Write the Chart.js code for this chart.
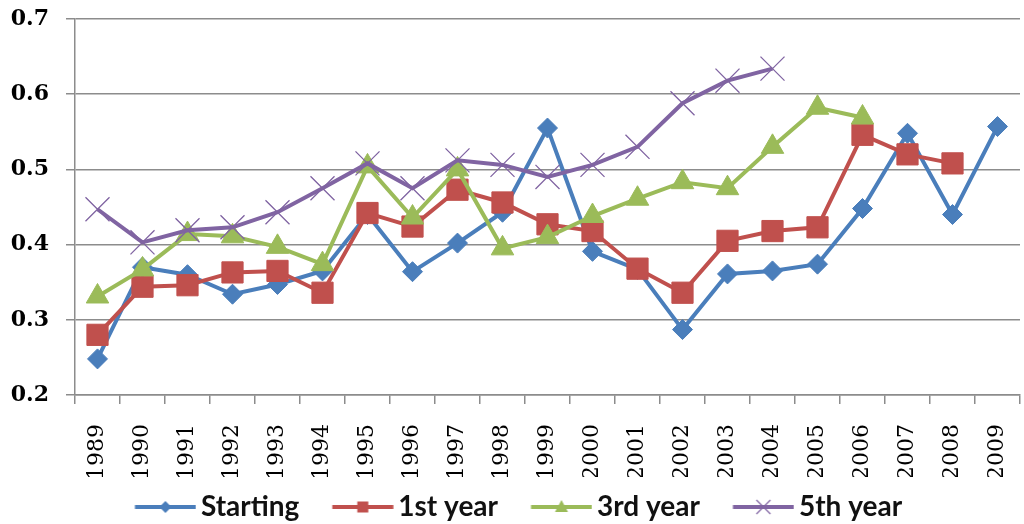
<!DOCTYPE html>
<html>
<head>
<meta charset="utf-8">
<script src="https://cdn.jsdelivr.net/npm/chart.js@4/dist/chart.umd.min.js"></script>
<style>
  html, body { margin: 0; padding: 0; background: #ffffff; }
  #wrap { width: 1024px; height: 524px; }
</style>
</head>
<body>
<div id="wrap"><canvas id="c" width="1024" height="524"></canvas></div>
<script>
// Categories (x axis)
const years = ['1989','1990','1991','1992','1993','1994','1995','1996','1997','1998','1999',
               '2000','2001','2002','2003','2004','2005','2006','2007','2008','2009'];

// Series values
const starting = [0.248, 0.370, 0.360, 0.334, 0.347, 0.365, 0.440, 0.364, 0.402, 0.443, 0.555,
                  0.391, 0.367, 0.287, 0.361, 0.365, 0.374, 0.448, 0.548, 0.440, 0.557];
const firstYear = [0.280, 0.344, 0.346, 0.363, 0.365, 0.336, 0.442, 0.424, 0.473, 0.456, 0.427,
                   0.418, 0.368, 0.336, 0.405, 0.418, 0.423, 0.546, 0.520, 0.508, null];
const thirdYear = [0.331, 0.367, 0.414, 0.411, 0.397, 0.374, 0.504, 0.436, 0.500, 0.395, 0.410,
                   0.438, 0.461, 0.483, 0.475, 0.530, 0.582, 0.569, null, null, null];
const fifthYear = [0.447, 0.403, 0.419, 0.423, 0.443, 0.475, 0.508, 0.475, 0.512, 0.506, 0.490,
                   0.506, 0.530, 0.588, 0.618, 0.634, null, null, null, null, null];

// Series names
const seriesNames = ['Starting', '1st year', '3rd year', '5th year'];

// Y axis tick range
const yMin = 0.2, yMax = 0.7, yStep = 0.1;

const BLUE = '#4a7ebb', RED = '#c0504d', GREEN = '#9bbb59', PURPLE = '#8064a2';

// Legend key: a short line with the series marker in the middle.
// The image is wider than the legend box so the line sits close to the text.
function legendKey(color, marker) {
  const W = 88, H = 26;
  const cv = document.createElement('canvas');
  cv.width = W; cv.height = H;
  const g = cv.getContext('2d');
  const cy = H / 2, x0 = 26.5, x1 = 87.5, cx = (x0 + x1) / 2;
  g.strokeStyle = color; g.lineWidth = 4;
  g.beginPath(); g.moveTo(x0, cy); g.lineTo(x1, cy); g.stroke();
  g.fillStyle = color;
  if (marker === 'diamond') {
    g.beginPath(); g.moveTo(cx, cy - 6); g.lineTo(cx + 6, cy); g.lineTo(cx, cy + 6); g.lineTo(cx - 6, cy); g.closePath(); g.fill();
  } else if (marker === 'square') {
    g.fillRect(cx - 5.5, cy - 5.5, 11, 11);
  } else if (marker === 'triangle') {
    g.beginPath(); g.moveTo(cx, cy - 7); g.lineTo(cx + 6.5, cy + 5); g.lineTo(cx - 6.5, cy + 5); g.closePath(); g.fill();
  } else if (marker === 'cross') {
    g.lineWidth = 1.2;
    g.beginPath();
    g.moveTo(cx - 7, cy - 7); g.lineTo(cx + 7, cy + 7);
    g.moveTo(cx + 7, cy - 7); g.lineTo(cx - 7, cy + 7);
    g.stroke();
  }
  return cv;
}

const keys = [legendKey(BLUE, 'diamond'), legendKey(RED, 'square'),
              legendKey(GREEN, 'triangle'), legendKey(PURPLE, 'cross')];

function lineSet(label, data, color, style, radius, order, borderW) {
  return {
    label, data, order,
    borderColor: color, backgroundColor: color,
    borderWidth: 4, tension: 0, spanGaps: false,
    pointStyle: style, pointRadius: radius, pointHoverRadius: radius,
    pointBackgroundColor: color, pointBorderColor: color, pointBorderWidth: borderW
  };
}

new Chart(document.getElementById('c'), {
  type: 'line',
  data: {
    labels: years,
    datasets: [
      lineSet(seriesNames[0], starting, BLUE, 'rectRot', 10, 3, 1),
      lineSet(seriesNames[1], firstYear, RED, 'rect', 15, 2, 1),
      lineSet(seriesNames[2], thirdYear, GREEN, 'triangle', 13, 1, 1),
      lineSet(seriesNames[3], fifthYear, PURPLE, 'crossRot', 17, 0, 1.3)
    ]
  },
  options: {
    responsive: false,
    animation: false,
    devicePixelRatio: 1,
    layout: { autoPadding: false, padding: { top: 19, right: 4, bottom: -7, left: 0 } },
    plugins: {
      tooltip: { enabled: false },
      legend: {
        position: 'bottom',
        labels: {
          usePointStyle: true,
          pointStyleWidth: 69,
          padding: 16,
          color: '#111111',
          font: { family: 'Lato', weight: 'bold', size: 28 },
          generateLabels: (chart) => chart.data.datasets.map((ds, i) => ({
            text: ds.label,
            pointStyle: keys[i],
            fillStyle: ds.borderColor,
            strokeStyle: ds.borderColor,
            lineWidth: 0,
            fontColor: '#111111',
            hidden: false,
            datasetIndex: i
          }))
        }
      }
    },
    scales: {
      x: {
        offset: true,
        grid: { offset: true, drawOnChartArea: false, drawTicks: true, tickLength: 9,
                color: '#8c8c8c', lineWidth: 1.5 },
        border: { color: '#8c8c8c', width: 1.5 },
        ticks: { autoSkip: false, minRotation: 90, maxRotation: 90, padding: 20,
                 color: '#000000', font: { family: 'DejaVu Serif', size: 22 } },
        afterFit: (s) => { s.height = 82; s.paddingLeft = 0; s.paddingRight = 0; }
      },
      y: {
        min: yMin, max: yMax,
        grid: { color: '#8c8c8c', lineWidth: 1.5, tickLength: 9 },
        border: { color: '#8c8c8c', width: 1.5 },
        ticks: { stepSize: yStep, padding: 17, color: '#000000',
                 font: { family: 'DejaVu Serif', weight: 'bold', size: 22 },
                 callback: (v) => Number(v).toFixed(1) },
        afterFit: (s) => { s.width = 75; s.paddingTop = 0; s.paddingBottom = 0; }
      }
    }
  }
});
</script>
</body>
</html>
